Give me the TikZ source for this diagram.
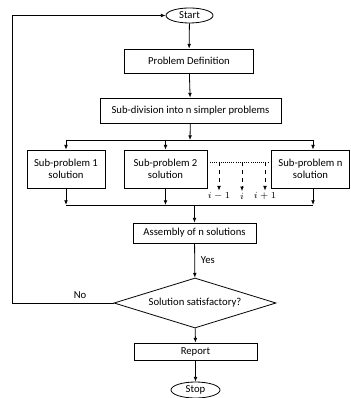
\documentclass[tikz,border=0pt]{standalone}
\usepackage{fontspec}
\setmainfont{Carlito}
\usetikzlibrary{shapes.geometric}
\usetikzlibrary{arrows.meta}

\begin{document}
\begin{tikzpicture}[x=0.75pt,y=-0.75pt,line width=0.6pt,
		every node/.style={font=\fontsize{8}{9.5}\selectfont},
		proc/.style={draw,rectangle,inner sep=1pt,align=center},
		term/.style={draw,ellipse,inner sep=0pt},
		arr/.style={-{Latex[length=3.5pt,width=2.8pt]}}]
		\useasboundingbox (0,0) rectangle (350,398);
		\node[term,minimum width=35.25pt,minimum height=11.25pt] (start) at (189.5,15.5) {Start};
		\node[proc,minimum width=96.75pt,minimum height=18pt] (pdef) at (189,61) {Problem Definition};
		\node[proc,minimum width=135.75pt,minimum height=18.75pt] (subdiv) at (190.5,110.5) {Sub-division into n simpler problems};
		\node[proc,minimum width=58.5pt,minimum height=28.5pt] (sp1) at (66,169) {Sub-problem 1\\solution};
		\node[proc,minimum width=62.25pt,minimum height=28.5pt] (sp2) at (165.5,169) {Sub-problem 2\\solution};
		\node[proc,minimum width=58.5pt,minimum height=28.5pt] (spn) at (310.5,169) {Sub-problem n\\solution};
		\node[proc,minimum width=92.25pt,minimum height=15pt] (asm) at (194.5,233) {Assembly of n solutions};
		\node[draw,diamond,shape aspect=3.2,inner sep=0pt,minimum width=121.5pt,minimum height=37.5pt] (sat) at (195,303) {Solution satisfactory?};
		\node[proc,minimum width=92.25pt,minimum height=12.75pt] (rep) at (195.5,351.5) {Report};
		\node[term,minimum width=36.75pt,minimum height=12pt] (stop) at (195.5,390) {Stop};
		% the i-1, i, i+1 branches
		\node[font=\fontsize{7.5}{8}\selectfont,inner sep=1pt] (im) at (219,196) {$i-1$};
		\node[font=\fontsize{7.5}{8}\selectfont,inner sep=1pt] (ii) at (242,196) {$i$};
		\node[font=\fontsize{7.5}{8}\selectfont,inner sep=1pt] (ip) at (265,196) {$i+1$};
		\coordinate (dl) at (210,162);
		\coordinate (dr) at (268,162);
		\draw[densely dotted] (dl) -- (dr);
		\draw[arr,dashed] (im |- dl) -- (im.north);
		\draw[arr,dashed] (ii |- dl) -- (ii.north);
		\draw[arr,dashed] (ip |- dl) -- (ip.north);
		% split
		\coordinate (br) at (190,140);
		\coordinate (bl) at (66,140);
		\coordinate (bn) at (313,140);
		\draw[arr] (start) -- (pdef);
		\draw[arr] (pdef) -- (subdiv);
		\draw[arr] (subdiv) -- (br);
		\draw (bl) -- (bn);
		\draw[arr] (bl) -- (sp1);
		\draw[arr] (sp2 |- bl) -- (sp2);
		\draw[arr] (bn) -- (bn |- spn.north);
		% join
		\coordinate (cl) at (66,205);
		\coordinate (cn) at (313,205);
		\draw (cl) -- (cn);
		\draw[arr] (sp1) -- (cl);
		\draw[arr] (sp2) -- (sp2 |- cl);
		\draw[arr] (bn |- spn.south) -- (cn);
		\draw[arr] (asm |- cl) -- (asm);
		\draw[arr] (asm) -- node[right=1pt] {Yes} (sat);
		\draw[arr] (sat) -- (rep);
		\draw[arr] (rep) -- (stop);
		% loop back
		\coordinate (lp) at (12,303);
		\draw[arr] (sat.west) -- node[above,pos=0.33] {No} (lp) |- (start.west);
	\end{tikzpicture}
\end{document}
